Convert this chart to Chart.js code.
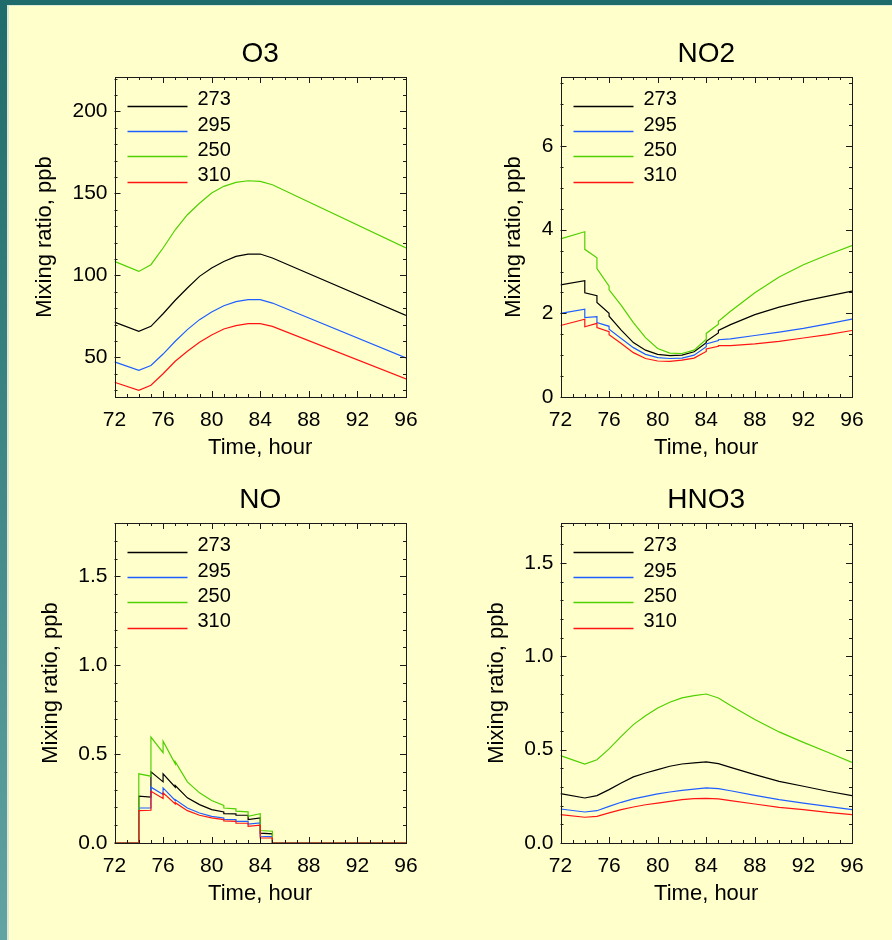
<!DOCTYPE html>
<html lang="en">
<head>
<meta charset="UTF-8">
<title>Mixing ratios, hours 72-96</title>
<script src="https://cdn.jsdelivr.net/npm/chart.js"></script>
<style>
    html, body {
        margin: 0;
        padding: 0;
    }
    body {
        position: relative;
        width: 892px;
        height: 940px;
        overflow: hidden;
        background: linear-gradient(#1f6a6a, #62a3a3);
        font-family: 'Liberation Sans', Arial, sans-serif;
    }
    .sheet {
        position: absolute;
        left: 7px;
        top: 5px;
        right: 0;
        bottom: 0;
        background: #ffffcc;
        border-left: 2px solid #dde8d6;
        border-top: 1px solid #dde8d6;
    }
    canvas {
        position: absolute;
    }
</style>
</head>
<body>
<div class="sheet"></div>
<canvas id="cO3" width="446" height="470" style="left:0;top:0"></canvas>
<canvas id="cNO2" width="446" height="470" style="left:446px;top:0"></canvas>
<canvas id="cNO" width="446" height="494" style="left:0;top:446px"></canvas>
<canvas id="cHNO3" width="446" height="494" style="left:446px;top:446px"></canvas>

<script>
// ---- values ----
const seriesLabels = ['273', '295', '250', '310'];
const seriesColors = ['#000000', '#1f5fff', '#4fd000', '#ff1414'];

// O3
const hoursO3 = [72, 74, 75, 76, 77, 78, 79, 80, 81, 82, 83, 84, 85, 96];
const o3_273 = [71.5, 65.9, 68.9, 76.6, 84.8, 92.3, 99.4, 104.5, 108.5, 111.6, 113.0, 113.0, 110.6, 75.6];
const o3_295 = [47.2, 42.1, 45.0, 52.0, 59.8, 66.9, 73.0, 77.6, 81.5, 84.0, 85.2, 85.2, 83.1, 49.6];
const o3_250 = [108.5, 102.4, 106.5, 116.7, 127.8, 137.0, 144.0, 150.2, 154.3, 156.7, 157.7, 157.3, 155.3, 116.7];
const o3_310 = [34.8, 29.9, 33.0, 40.0, 47.6, 53.7, 59.2, 63.6, 67.3, 69.3, 70.5, 70.5, 68.9, 36.8];

// NO2 (repeated hours are the steps in the curves)
const hoursNO2 = [72, 74, 74, 75, 75, 76, 76, 77, 78, 79, 80, 81, 82, 83, 84, 84, 85, 85, 86, 88, 90, 92, 94, 96];
const no2_273 = [2.68, 2.78, 2.49, 2.42, 2.26, 2.00, 1.93, 1.60, 1.30, 1.12, 1.02, 0.99, 1.00, 1.08, 1.30, 1.33, 1.53, 1.59, 1.73, 1.97, 2.15, 2.29, 2.41, 2.53];
const no2_295 = [2.00, 2.10, 1.90, 1.92, 1.78, 1.69, 1.62, 1.40, 1.18, 1.02, 0.94, 0.92, 0.93, 1.00, 1.20, 1.27, 1.35, 1.37, 1.39, 1.47, 1.55, 1.64, 1.75, 1.86];
const no2_250 = [3.78, 3.95, 3.53, 3.33, 3.07, 2.65, 2.56, 2.19, 1.78, 1.42, 1.16, 1.05, 1.04, 1.12, 1.38, 1.52, 1.74, 1.81, 2.05, 2.49, 2.87, 3.16, 3.40, 3.62];
const no2_310 = [1.71, 1.86, 1.68, 1.76, 1.66, 1.56, 1.49, 1.28, 1.06, 0.92, 0.86, 0.85, 0.88, 0.93, 1.09, 1.15, 1.21, 1.23, 1.23, 1.27, 1.33, 1.41, 1.49, 1.59];

// NO
const hoursNO = [72, 74, 74, 75, 75, 76, 76, 77, 77, 78, 79, 80, 81, 81, 82, 82, 83, 83, 84, 84, 85, 85, 96];
const no_273 = [0, 0, 0.263, 0.258, 0.400, 0.344, 0.389, 0.314, 0.323, 0.254, 0.216, 0.188, 0.175, 0.165, 0.164, 0.156, 0.156, 0.132, 0.141, 0.055, 0.051, 0, 0];
const no_295 = [0, 0, 0.197, 0.197, 0.314, 0.273, 0.310, 0.239, 0.244, 0.197, 0.169, 0.150, 0.141, 0.133, 0.132, 0.122, 0.122, 0.107, 0.113, 0.038, 0.036, 0, 0];
const no_250 = [0, 0, 0.389, 0.376, 0.596, 0.508, 0.573, 0.445, 0.457, 0.344, 0.282, 0.239, 0.211, 0.197, 0.192, 0.179, 0.175, 0.150, 0.165, 0.070, 0.066, 0, 0];
const no_310 = [0, 0, 0.182, 0.184, 0.291, 0.250, 0.282, 0.220, 0.227, 0.182, 0.156, 0.141, 0.132, 0.124, 0.122, 0.111, 0.111, 0.094, 0.100, 0.028, 0.028, 0, 0];

// HNO3
const hoursHNO3 = [72, 74, 75, 76, 77, 78, 79, 80, 81, 82, 83, 84, 85, 86, 88, 90, 92, 94, 96];
const hno3_273 = [0.264, 0.241, 0.254, 0.286, 0.321, 0.354, 0.375, 0.393, 0.411, 0.423, 0.429, 0.434, 0.425, 0.405, 0.366, 0.330, 0.304, 0.277, 0.254];
const hno3_295 = [0.182, 0.166, 0.173, 0.196, 0.218, 0.236, 0.250, 0.263, 0.273, 0.282, 0.289, 0.295, 0.291, 0.280, 0.255, 0.232, 0.214, 0.196, 0.179];
const hno3_250 = [0.468, 0.423, 0.446, 0.504, 0.571, 0.634, 0.682, 0.723, 0.754, 0.777, 0.789, 0.798, 0.777, 0.736, 0.661, 0.595, 0.539, 0.486, 0.432];
const hno3_310 = [0.152, 0.138, 0.143, 0.161, 0.179, 0.193, 0.205, 0.214, 0.223, 0.232, 0.238, 0.239, 0.236, 0.227, 0.209, 0.191, 0.179, 0.164, 0.152];

Chart.defaults.font.family = "'Liberation Sans', Arial, sans-serif";
Chart.defaults.color = '#000';

// box with inward major/minor ticks on all four sides (IDL style)
const idlFrame = {
    id: 'idlFrame',
    afterDatasetsDraw(chart, args, opts) {
        const {ctx, chartArea: a, scales: {x, y}} = chart;
        ctx.save();
        ctx.strokeStyle = '#1a1a1a';
        ctx.lineWidth = 1;
        ctx.strokeRect(Math.round(a.left) + 0.5, Math.round(a.top) + 0.5,
                       Math.round(a.right) - Math.round(a.left), Math.round(a.bottom) - Math.round(a.top));
        ctx.beginPath();
        const isMajor = (v, step) => Math.abs(v / step - Math.round(v / step)) < 1e-6;
        for (let k = Math.ceil(x.min / opts.xMinor - 1e-9); k * opts.xMinor <= x.max + 1e-9; k++) {
            const v = k * opts.xMinor;
            const len = isMajor(v, opts.xMajor) ? 6 : 3;
            const px = Math.round(x.getPixelForValue(v)) + 0.5;
            ctx.moveTo(px, a.bottom); ctx.lineTo(px, a.bottom - len);
            ctx.moveTo(px, a.top); ctx.lineTo(px, a.top + len);
        }
        for (let k = Math.ceil(y.min / opts.yMinor - 1e-9); k * opts.yMinor <= y.max + 1e-9; k++) {
            const v = k * opts.yMinor;
            const len = isMajor(v, opts.yMajor) ? 6 : 3;
            const py = Math.round(y.getPixelForValue(v)) + 0.5;
            ctx.moveTo(a.left, py); ctx.lineTo(a.left + len, py);
            ctx.moveTo(a.right, py); ctx.lineTo(a.right - len, py);
        }
        ctx.stroke();
        ctx.restore();
    }
};

// legend: short line with the label to its right, top-left inside the box
const idlLegend = {
    id: 'idlLegend',
    afterDraw(chart) {
        const {ctx, chartArea: a} = chart;
        ctx.save();
        ctx.font = "20px 'Liberation Sans', Arial, sans-serif";
        ctx.textBaseline = 'middle';
        ctx.textAlign = 'left';
        seriesLabels.forEach((label, i) => {
            const cy = a.top + 22.7 + 25.3 * i;
            const ly = Math.round(cy + 6) + 0.5;
            ctx.beginPath();
            ctx.strokeStyle = seriesColors[i];
            ctx.lineWidth = 1.3;
            ctx.moveTo(a.left + 13, ly);
            ctx.lineTo(a.left + 73, ly);
            ctx.stroke();
            ctx.fillStyle = '#000';
            ctx.fillText(label, a.left + 83, cy);
        });
        ctx.restore();
    }
};

const panels = [
    {id: 'cO3', title: 'O3', hours: hoursO3, values: [o3_273, o3_295, o3_250, o3_310],
     yMin: 25.8, yMax: 221, yStep: 50, yMinor: 10, digits: 0, yTitleX: 45},
    {id: 'cNO2', title: 'NO2', hours: hoursNO2, values: [no2_273, no2_295, no2_250, no2_310],
     yMin: 0, yMax: 7.65, yStep: 2, yMinor: 0.5, digits: 0, yTitleX: 68},
    {id: 'cNO', title: 'NO', hours: hoursNO, values: [no_273, no_295, no_250, no_310],
     yMin: 0, yMax: 1.8, yStep: 0.5, yMinor: 0.1, digits: 1, yTitleX: 51},
    {id: 'cHNO3', title: 'HNO3', hours: hoursHNO3, values: [hno3_273, hno3_295, hno3_250, hno3_310],
     yMin: 0, yMax: 1.714, yStep: 0.5, yMinor: 0.1, digits: 1, yTitleX: 51}
];

const plotLeft = 114.5;   // chart area inside each canvas
const xAxisBottom = 461;

panels.forEach(p => {
    const canvas = document.getElementById(p.id);
    const padLeft = p.yTitleX - 13.2;
    new Chart(canvas, {
        type: 'line',
        data: {
            datasets: p.values.map((vals, i) => ({
                label: seriesLabels[i],
                data: p.hours.map((t, k) => ({x: t, y: vals[k]})),
                borderColor: seriesColors[i],
                borderWidth: 1.2,
                pointRadius: 0,
                tension: 0,
                order: 3 - i
            }))
        },
        options: {
            responsive: false,
            animation: false,
            events: [],
            layout: {
                padding: {left: padLeft, right: 40, top: 0, bottom: canvas.height - xAxisBottom}
            },
            scales: {
                x: {
                    type: 'linear',
                    min: 72,
                    max: 96,
                    grid: {display: false, drawTicks: false},
                    border: {display: false},
                    ticks: {stepSize: 4, autoSkip: false, maxRotation: 0, padding: 11, font: {size: 21}},
                    title: {display: true, text: 'Time, hour', font: {size: 22}, padding: 0},
                    afterFit: s => { s.height = 64; }
                },
                y: {
                    min: p.yMin,
                    max: p.yMax,
                    grid: {display: false, drawTicks: false},
                    border: {display: false},
                    ticks: {
                        stepSize: p.yStep,
                        includeBounds: false,
                        padding: 7,
                        font: {size: 21},
                        callback: v => v.toFixed(p.digits)
                    },
                    title: {display: true, text: 'Mixing ratio, ppb', font: {size: 22}, padding: 0},
                    afterFit: s => { s.width = plotLeft - padLeft; }
                }
            },
            plugins: {
                legend: {display: false},
                tooltip: {enabled: false},
                title: {
                    display: true,
                    text: p.title,
                    fullSize: false,
                    font: {size: 28, weight: 'normal'},
                    padding: {top: 37.4, bottom: 6}
                },
                idlFrame: {xMajor: 4, xMinor: 1, yMajor: p.yStep, yMinor: p.yMinor}
            }
        },
        plugins: [idlFrame, idlLegend]
    });
});
</script>
</body>
</html>
